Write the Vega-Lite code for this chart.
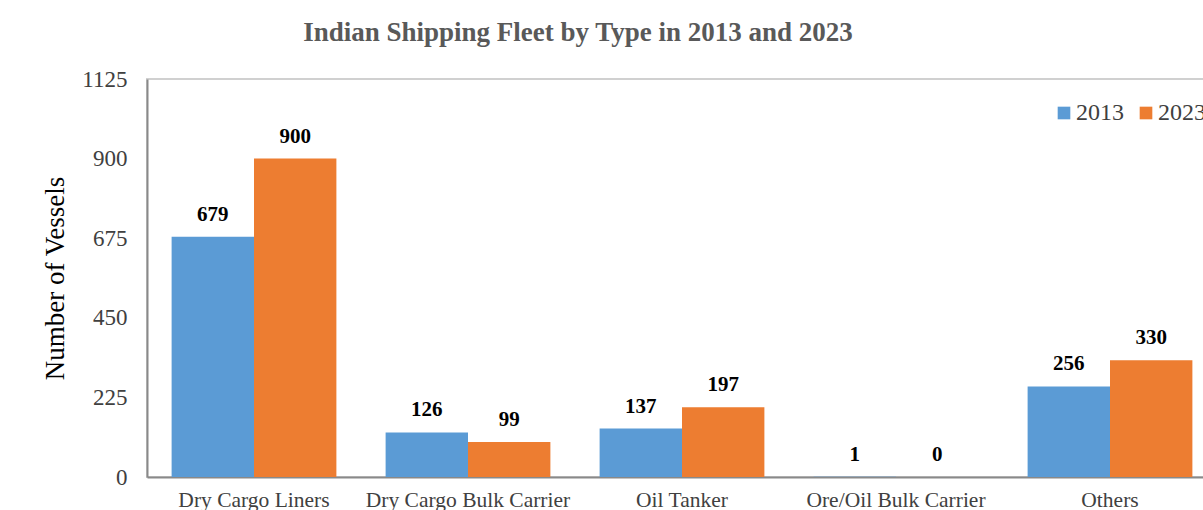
{
  "$schema": "https://vega.github.io/schema/vega-lite/v6.json",
  "width": 1070,
  "height": 398,
  "autosize": {"type": "none"},
  "padding": {"left": 147, "top": 79, "right": 0, "bottom": 33},
  "background": "white",
  "config": {
    "font": "Liberation Serif",
    "view": {"stroke": "#d0d0d0", "strokeWidth": 2}
  },
  "title": {
    "text": "Indian Shipping Fleet by Type in 2013 and 2023",
    "font": "Liberation Serif",
    "fontSize": 27,
    "fontWeight": "bold",
    "color": "#595959",
    "anchor": "middle",
    "frame": "group",
    "dx": -104,
    "offset": 21
  },
  "data": {
    "values": [
      {"type": "Dry Cargo Liners", "year": "2013", "vessels": 679},
      {"type": "Dry Cargo Liners", "year": "2023", "vessels": 900},
      {"type": "Dry Cargo Bulk Carrier", "year": "2013", "vessels": 126},
      {"type": "Dry Cargo Bulk Carrier", "year": "2023", "vessels": 99},
      {"type": "Oil Tanker", "year": "2013", "vessels": 137},
      {"type": "Oil Tanker", "year": "2023", "vessels": 197},
      {"type": "Ore/Oil Bulk Carrier", "year": "2013", "vessels": 1},
      {"type": "Ore/Oil Bulk Carrier", "year": "2023", "vessels": 0},
      {"type": "Others", "year": "2013", "vessels": 256},
      {"type": "Others", "year": "2023", "vessels": 330}
    ]
  },
  "encoding": {
    "x": {
      "field": "type",
      "type": "nominal",
      "sort": null,
      "scale": {"paddingInner": 0.23, "paddingOuter": 0.115},
      "axis": {
        "title": null,
        "labelAngle": 0,
        "labelFontSize": 21.5,
        "labelColor": "#404040",
        "labelPadding": 12,
        "labelLimit": 0,
        "ticks": false,
        "domainColor": "#898989",
        "domainWidth": 2
      }
    },
    "y": {
      "field": "vessels",
      "type": "quantitative",
      "scale": {"domain": [0, 1125], "nice": false},
      "axis": {
        "title": "Number of Vessels",
        "titleFontSize": 27,
        "titleFontWeight": "normal",
        "titleColor": "#000000",
        "titlePadding": 12,
        "values": [0, 225, 450, 675, 900, 1125],
        "format": "d",
        "grid": false,
        "ticks": false,
        "labelFontSize": 23,
        "labelColor": "#404040",
        "labelPadding": 20,
        "domainColor": "#898989",
        "domainWidth": 2
      }
    },
    "xOffset": {"field": "year", "type": "nominal"}
  },
  "layer": [
    {
      "mark": {"type": "bar"},
      "encoding": {
        "color": {
          "field": "year",
          "type": "nominal",
          "scale": {"domain": ["2013", "2023"], "range": ["#5B9BD5", "#ED7D31"]},
          "legend": {
            "title": null,
            "orient": "none",
            "direction": "horizontal",
            "legendX": 905,
            "legendY": 22,
            "symbolType": "square",
            "symbolSize": 160,
            "symbolStrokeWidth": 0,
            "labelFontSize": 24,
            "labelColor": "#404040",
            "columnPadding": 10,
            "labelOffset": 0
          }
        }
      }
    },
    {
      "mark": {"type": "text", "dy": -16, "baseline": "alphabetic", "fontSize": 21, "fontWeight": "bold", "color": "#000000"},
      "encoding": {
        "text": {"field": "vessels", "type": "quantitative"}
      }
    }
  ]
}
